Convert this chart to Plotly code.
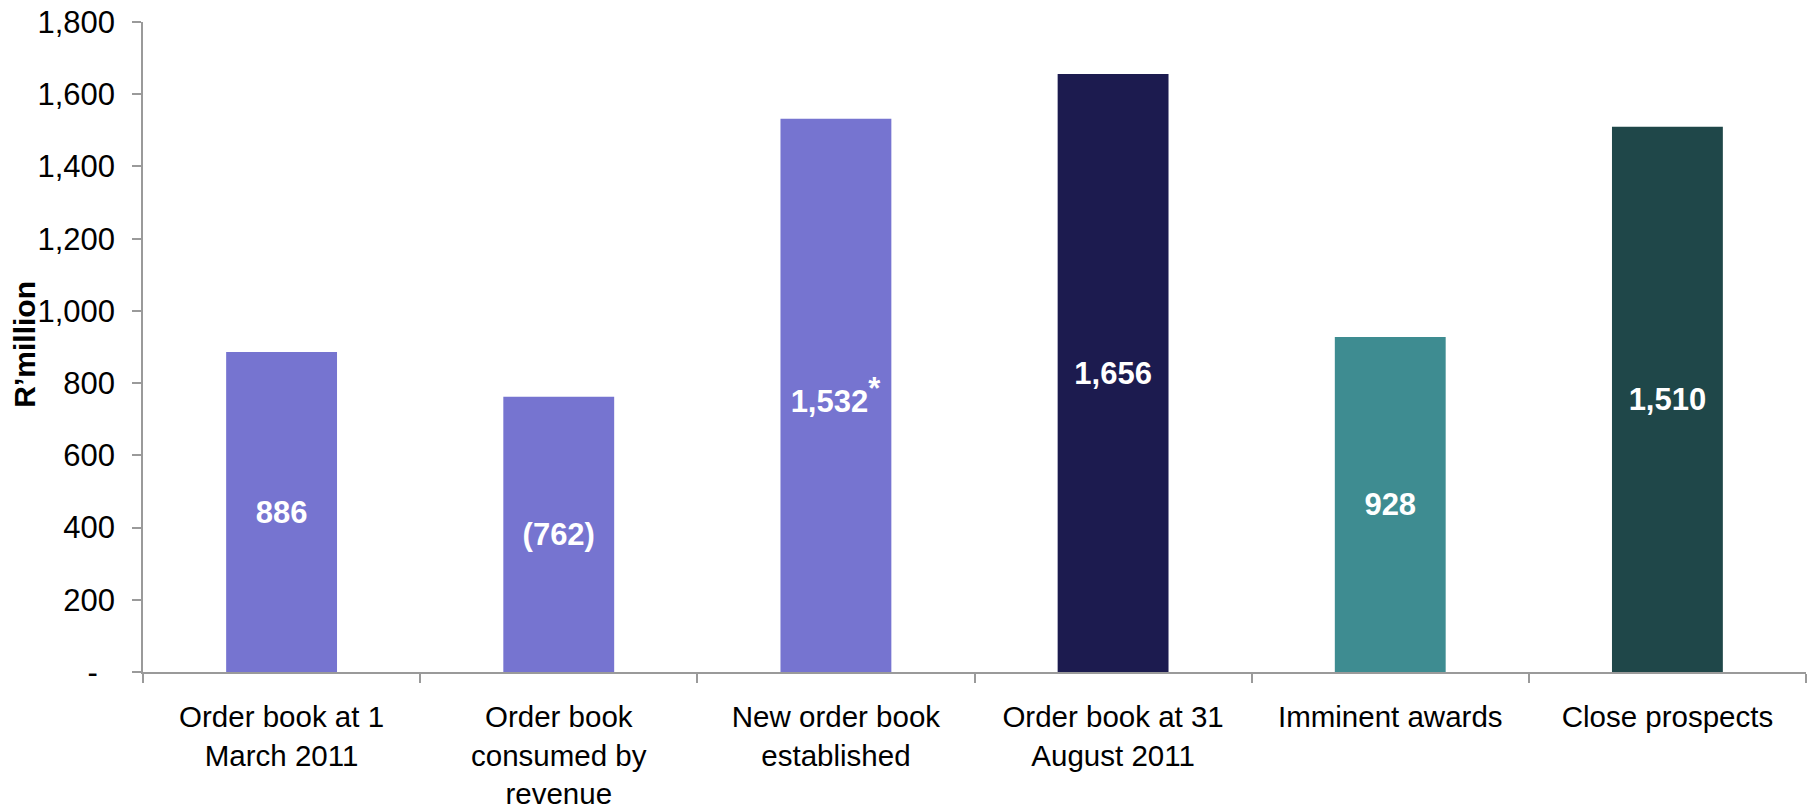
import plotly.graph_objects as go

# Order book movement, R'million
categories = [
    "Order book at 1<br>March 2011",
    "Order book<br>consumed by<br>revenue",
    "New order book<br>established",
    "Order book at 31<br>August 2011",
    "Imminent awards",
    "Close prospects",
]
amounts = [886, -762, 1532, 1656, 928, 1510]
footnote_marks = ["", "", "*", "", "", ""]
bar_colors = ["#7674D0", "#7674D0", "#7674D0", "#1C1B4F", "#3E8C91", "#1F4749"]

y_tick_values = [0, 200, 400, 600, 800, 1000, 1200, 1400, 1600, 1800]
y_tick_labels = ["-\u00a0\u00a0", "200", "400", "600", "800", "1,000",
                 "1,200", "1,400", "1,600", "1,800"]

FONT = "Liberation Sans, Arial, Helvetica, sans-serif"
AXIS_GREY = "#9a9a9a"
LABEL_SIZE = 31


def fmt(v, mark):
    s = f"{abs(v):,}"
    if v < 0:
        s = f"({s})"
    if mark:
        s += f"<sup><span style='font-size:{LABEL_SIZE}px'>{mark}</span></sup>"
    return s


labels = [fmt(v, m) for v, m in zip(amounts, footnote_marks)]
heights = [abs(v) for v in amounts]

fig = go.Figure(
    go.Bar(
        x=categories,
        y=heights,
        marker=dict(color=bar_colors, line=dict(width=0)),
        text=labels,
        textposition="inside",
        insidetextanchor="middle",
        textangle=0,
        textfont=dict(family=FONT, size=LABEL_SIZE, color="white", weight="bold"),
        hoverinfo="skip",
    )
)

fig.update_layout(
    width=1812,
    height=807,
    margin=dict(l=143, r=6, t=22, b=135, autoexpand=False),
    paper_bgcolor="white",
    plot_bgcolor="white",
    bargap=0.6,
    showlegend=False,
    font=dict(family=FONT, size=30, color="black"),
)

fig.update_xaxes(
    automargin=False,
    showline=True,
    linecolor=AXIS_GREY,
    linewidth=1.5,
    ticks="outside",
    tickson="boundaries",
    ticklen=9,
    tickcolor=AXIS_GREY,
    tickwidth=1.5,
    showgrid=False,
    tickfont=dict(family=FONT, size=29.5, color="black"),
    ticklabelstandoff=18,
)

fig.update_yaxes(
    automargin=False,
    range=[0, 1800],
    showline=True,
    linecolor=AXIS_GREY,
    linewidth=1.5,
    ticks="outside",
    ticklen=9,
    tickcolor=AXIS_GREY,
    tickwidth=1.5,
    showgrid=False,
    zeroline=False,
    tickvals=y_tick_values,
    ticktext=y_tick_labels,
    tickfont=dict(family=FONT, size=31, color="black"),
    ticklabelstandoff=11,
)

fig.add_annotation(
    text="R\u2019million",
    xref="paper",
    yref="paper",
    x=-0.071,
    y=0.505,
    xanchor="center",
    yanchor="middle",
    textangle=-90,
    showarrow=False,
    font=dict(family=FONT, size=30, color="black", weight="bold"),
)

fig.write_html("out.html")
